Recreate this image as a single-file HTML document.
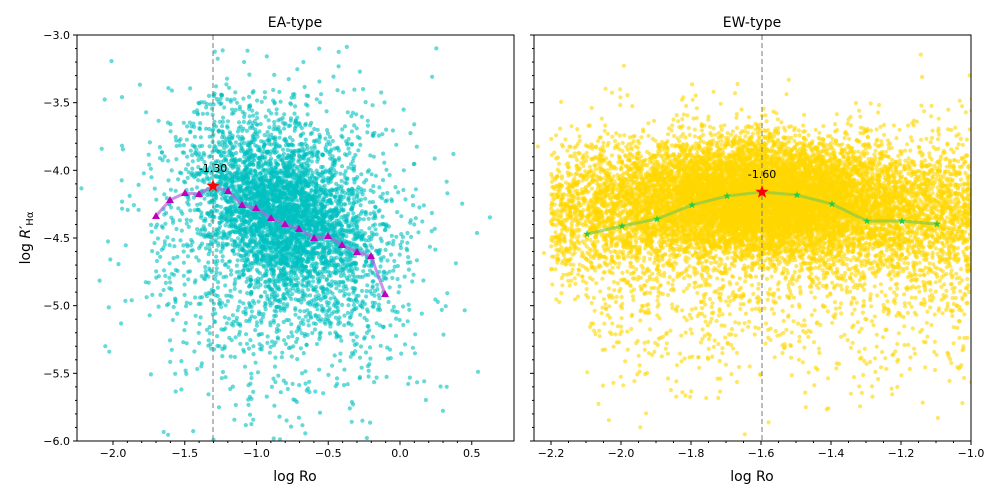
<!DOCTYPE html>
<html><head><meta charset="utf-8"><style>
html,body{margin:0;background:#fff;width:1000px;height:500px;overflow:hidden}
svg{display:block;overflow:hidden;position:absolute;left:0;top:0}
svg text{font-family:"DejaVu Sans","Liberation Sans",sans-serif}
</style></head><body>
<svg id="s" width="1000" height="500" xmlns="http://www.w3.org/2000/svg">
<defs>
<clipPath id="cl"><rect x="77" y="35" width="437" height="406"/></clipPath>
<clipPath id="cr"><rect x="534" y="35" width="437" height="406"/></clipPath>
</defs>
<g id="L" clip-path="url(#cl)"></g>
<g id="R" clip-path="url(#cr)"></g>
<g id="ov"></g>
<text x="295" y="27" font-size="14" text-anchor="middle">EA-type</text>
<text x="752" y="27" font-size="14" text-anchor="middle">EW-type</text>
<text x="295" y="481" font-size="14" text-anchor="middle">log Ro</text>
<text x="752" y="481" font-size="14" text-anchor="middle">log Ro</text>
<text transform="translate(30,238) rotate(-90)" font-size="14" text-anchor="middle">log <tspan font-style="italic">R</tspan>′<tspan font-size="10" dy="3">Hα</tspan></text>
</svg>
<script>
var NS="http://www.w3.org/2000/svg";
var st=987654321;function rnd(){st|=0;st=st+0x6D2B79F5|0;var t=Math.imul(st^st>>>15,1|st);t=t+Math.imul(t^t>>>7,61|t)^t;return((t^t>>>14)>>>0)/4294967296;}
function g(){var u=rnd()||1e-9,v=rnd();return Math.sqrt(-2*Math.log(u))*Math.cos(2*Math.PI*v);}
function el(p,t,a){var e=document.createElementNS(NS,t);for(var k in a)e.setAttribute(k,a[k]);p.appendChild(e);return e;}
var yp=function(y){return 35+(-3-y)*135.33;};
var xl=function(x){return 400+x*143.5;};
var xr=function(x){return 971+(x+1)*350;};
var L=document.getElementById("L"),R=document.getElementById("R"),ov=document.getElementById("ov");
var s="";
for(var i=0;i<5000;i++){var x,y,r=rnd();
 if(r<0.62){x=-0.8+g()*0.3;y=-4.32+g()*0.3-(x+0.8)*0.45;}
 else if(r<0.87){x=-0.85+g()*0.42;y=-4.45+g()*0.5;}
 else{x=-0.75+g()*0.5;y=-4.75+g()*0.7;}
 s+='<circle cx="'+xl(x).toFixed(1)+'" cy="'+yp(y).toFixed(1)+'" r="2.1"/>';}
L.innerHTML='<g fill="#00bfbf" fill-opacity="0.6">'+s+'</g>';
s="";
for(var i=0;i<14000;i++){var x,y,r=rnd();
 if(r<0.5){x=-1.6+g()*0.18;y=-4.2+g()*0.2;}
 else if(r<0.86){x=-2.2+rnd()*1.25;y=-4.28+g()*0.24-Math.abs(x+1.6)*0.15+0.05;}
 else{x=-2.1+rnd()*1.15;y=-4.6+g()*0.5;}
 s+='<circle cx="'+xr(x).toFixed(1)+'" cy="'+yp(y).toFixed(1)+'" r="2.1"/>';}
R.innerHTML='<g fill="#ffd700" fill-opacity="0.6">'+s+'</g>';
var lp=[[156,216],[170,200],[185,193],[199,194],[213,186],[228,191],[242,205],[256,208],[271,218],[285,224],[299,229],[314,238],[328,236],[342,245],[357,252],[371,256],[385,294]];
var rp=[[587,234],[622,226],[657,219],[692,205],[727,196],[762,192],[797,195],[832,204],[867,221],[902,221],[937,224]];
el(ov,"line",{x1:213,y1:35,x2:213,y2:441,stroke:"#777","stroke-dasharray":"5,3","stroke-width":1});
el(ov,"line",{x1:762,y1:35,x2:762,y2:441,stroke:"#777","stroke-dasharray":"5,3","stroke-width":1});
el(ov,"polyline",{points:lp.map(function(p){return p.join(",")}).join(" "),fill:"none",stroke:"#b266dd","stroke-width":3,"stroke-opacity":0.7});
el(ov,"polyline",{points:rp.map(function(p){return p.join(",")}).join(" "),fill:"none",stroke:"#88cc44","stroke-width":3,"stroke-opacity":0.7});
lp.forEach(function(p,i){if(i==4)return;el(ov,"polygon",{points:(p[0]-4)+","+(p[1]+3)+" "+(p[0]+4)+","+(p[1]+3)+" "+p[0]+","+(p[1]-4),fill:"#bf00bf"});});
function star(x,y,R,c){var pts=[];for(var k=0;k<10;k++){var a=-Math.PI/2+k*Math.PI/5,rr=k%2?R*0.4:R;pts.push((x+rr*Math.cos(a)).toFixed(1)+","+(y+rr*Math.sin(a)).toFixed(1));}el(ov,"polygon",{points:pts.join(" "),fill:c});}
rp.forEach(function(p,i){if(i==5)return;star(p[0],p[1],4,"#22cc44");});
star(213,186,7,"#ff0000");star(762,192,7,"#ff0000");
el(ov,"text",{x:213,y:172,"font-size":11,"text-anchor":"middle"}).textContent="-1.30";
el(ov,"text",{x:762,y:178,"font-size":11,"text-anchor":"middle"}).textContent="-1.60";
[77,534].forEach(function(x0){el(ov,"rect",{x:x0,y:35,width:437,height:406,fill:"none",stroke:"#000","stroke-width":1});});
for(var v=-3;v>=-6.001;v-=0.1){var y=yp(v),maj=Math.abs(Math.round(v*2)-v*2)<0.01;
 [77,534].forEach(function(x0){el(ov,"line",{x1:x0,y1:y,x2:x0-(maj?4:2),y2:y,stroke:"#000"});});
 if(maj)el(ov,"text",{x:70,y:y+4,"font-size":11,"text-anchor":"end"}).textContent=v.toFixed(1).replace("-","−");}
for(var v=-2;v<=0.51;v+=0.1){var x=xl(v),maj=Math.abs(Math.round(v*2)-v*2)<0.01;
 el(ov,"line",{x1:x,y1:441,x2:x,y2:441+(maj?4:2),stroke:"#000"});
 if(maj)el(ov,"text",{x:x,y:457,"font-size":11,"text-anchor":"middle"}).textContent=(Math.abs(v)<1e-6?"0.0":v.toFixed(1)).replace("-","−");}
for(var v=-2.2;v<=-0.99;v+=0.2){var x=xr(v);
 el(ov,"line",{x1:x,y1:441,x2:x,y2:445,stroke:"#000"});
 el(ov,"text",{x:x,y:457,"font-size":11,"text-anchor":"middle"}).textContent=v.toFixed(1).replace("-","−");}
for(var v=-2.2;v<=-0.99;v+=0.05){el(ov,"line",{x1:xr(v),y1:441,x2:xr(v),y2:443,stroke:"#000"});}
</script>
</body></html>
